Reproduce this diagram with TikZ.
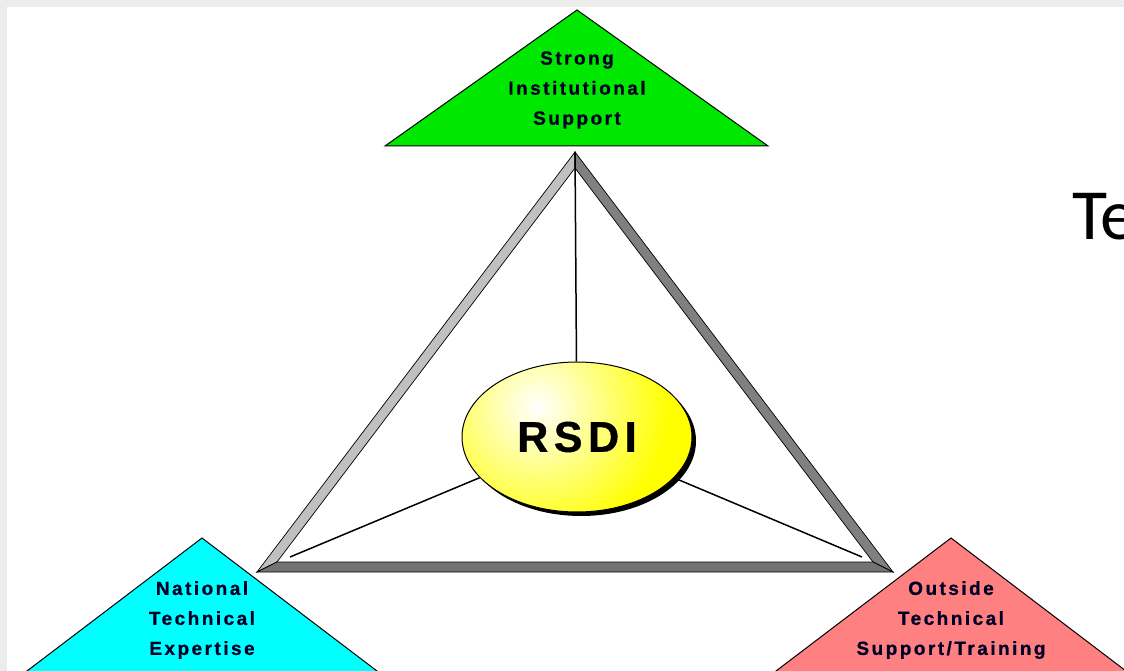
\documentclass[tikz,border=0pt]{standalone}
\usepackage{fontspec}
\usetikzlibrary{shapes.geometric,shadows}
\newfontfamily\lblfont{Liberation Sans}[LetterSpace=13, BoldFeatures={FakeBold=0.8}]
\newfontfamily\bigfont{Carlito}
\definecolor{topgreen}{RGB}{0,232,0}
\definecolor{natcyan}{RGB}{0,255,255}
\definecolor{outpink}{RGB}{255,128,128}
\definecolor{barlight}{RGB}{192,192,192}
\definecolor{bardark}{RGB}{128,128,128}
\pgfdeclareradialshading{glow}{\pgfpoint{0bp}{0bp}}{color(0bp)=(white); color(11bp)=(yellow); color(50bp)=(yellow)}

\begin{document}
\begin{tikzpicture}[x=1pt,y=-1pt,
  lbl/.style={font=\lblfont\bfseries\fontsize{19}{30}\selectfont, align=center, text=black!85!blue},
  tri/.style={draw=black, line width=1pt, line join=miter},
  bar/.style={draw=black, line width=0.7pt, line join=miter},
  spoke/.style={draw=black, line width=1.5pt}]
\useasboundingbox (0,0) rectangle (1124,671);
\clip (0,0) rectangle (1124,671);
%\draw[help lines, color=gray!30, dashed] (0,0) grid[step=50] (1124,671);
\fill[gray!15] (0,0) rectangle (1124,671);
\fill[white] (7,7) rectangle (1124,671);

% frame
\coordinate (top) at (575,152);
\coordinate (lft) at (257,572);
\coordinate (rgt) at (893,572);
\coordinate (topin) at (575,168);
\coordinate (lftin) at (277,562);
\coordinate (rgtin) at (873,562);
\filldraw[bar, fill=barlight] (lft) -- (top) -- (topin) -- (lftin) -- cycle;
\filldraw[bar, fill=bardark] (top) -- (rgt) -- (rgtin) -- (topin) -- cycle;
\filldraw[bar, fill=bardark!90!black] (lft) -- (rgt) -- (rgtin) -- (lftin) -- cycle;

% centre
\node[ellipse, draw=black, line width=1pt, fill=yellow, inner sep=0pt,
  minimum width=230pt, minimum height=150pt,
  drop shadow={shadow xshift=4pt, shadow yshift=-4pt, fill=black, opacity=1},
  path picture={\shade[shading=glow]
    ([xshift=-40pt,yshift=30pt]path picture bounding box.center) circle (300pt);},
  font=\lblfont\bfseries\fontsize{43}{43}\selectfont] (rsdi) at (577,437) {RSDI};
\coordinate (ls) at (290,557);
\coordinate (rs) at (862,557);
\draw[spoke] (top) -- (rsdi);
\draw[spoke] (ls) -- (rsdi);
\draw[spoke] (rs) -- (rsdi);

% corner triangles
\filldraw[tri, fill=topgreen] (577,10) -- (768,146) -- (385,146) -- cycle;
\node[lbl] (inst) at (577,90) {Strong\\Institutional\\Support};
\filldraw[tri, fill=natcyan] (202,538) -- (402,690) -- (2,690) -- cycle;
\node[lbl] (nat) at (202,620) {National\\Technical\\Expertise};
\filldraw[tri, fill=outpink] (951,538) -- (1151,690) -- (751,690) -- cycle;
\node[lbl] (outs) at (951,620) {Outside\\Technical\\Support/Training};

\node[anchor=base west, inner sep=0pt, font=\bigfont\fontsize{72}{72}\selectfont] (te) at (1072,239) {Te};
\end{tikzpicture}
\end{document}
